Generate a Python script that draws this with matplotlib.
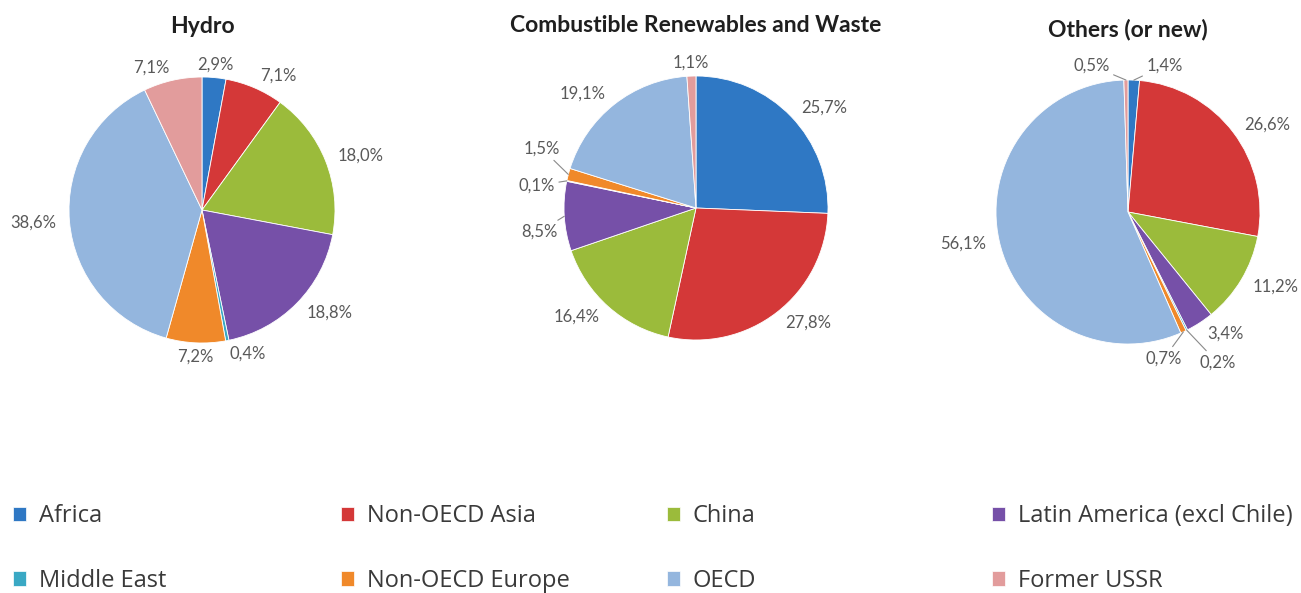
import matplotlib
matplotlib.use('Agg')
from matplotlib import pyplot as plt
from matplotlib.patches import Patch
import numpy as np

regions = ['Africa', 'Non-OECD Asia', 'China', 'Latin America (excl Chile)',
           'Middle East', 'Non-OECD Europe', 'OECD', 'Former USSR']
colors = ['#2F78C4', '#D43838', '#9BBB3B', '#7650A8',
          '#3AA8C4', '#F0892A', '#94B6DE', '#E29C9C']

titles = ['Hydro', 'Combustible Renewables and Waste', 'Others (or new)']
hydro = [2.9, 7.1, 18.0, 18.8, 0.4, 7.2, 38.6, 7.1]
combustible = [25.7, 27.8, 16.4, 8.5, 0.1, 1.5, 19.1, 1.1]
others = [1.4, 26.6, 11.2, 3.4, 0.2, 0.7, 56.1, 0.5]

plt.rcParams['font.family'] = ['Lato', 'DejaVu Sans']

W, H = 1301, 593
fig = plt.figure(figsize=(W / 100, H / 100), dpi=100)

# pie centre x, centre y (from top) and radius, in pixels
pies = [(202, 210, 133), (696, 208, 132), (1128, 212, 132)]
lim = 1.5

# small slices whose label sits apart with a leader line: index -> (x, y, ha)
moved = [
    {},
    {3: (-1.05, -0.18, 'right'), 4: (-1.07, 0.17, 'right'), 5: (-1.03, 0.45, 'right')},
    {0: (0.14, 1.11, 'left'), 7: (-0.14, 1.11, 'right'),
     5: (0.41, -1.11, 'right'), 4: (0.54, -1.14, 'left')},
]


def fmt(v):
    return ('%.1f%%' % v).replace('.', ',')


for k, values in enumerate([hydro, combustible, others]):
    cx, cy, r = pies[k]
    s = r * lim
    ax = fig.add_axes([(cx - s) / W, (H - cy - s) / H, 2 * s / W, 2 * s / H])
    wedges, _ = ax.pie(values, colors=colors, startangle=90, counterclock=False,
                       wedgeprops=dict(edgecolor='white', linewidth=0.6))
    ax.set_xlim(-lim, lim)
    ax.set_ylim(-lim, lim)
    ax.axis('off')
    for i, w in enumerate(wedges):
        ang = np.deg2rad((w.theta1 + w.theta2) / 2)
        ex, ey = np.cos(ang), np.sin(ang)
        if i in moved[k]:
            x, y, ha = moved[k][i]
            ax.annotate(fmt(values[i]), xy=(ex, ey), xytext=(x, y), ha=ha, va='center',
                        fontsize=12, color='#595959', annotation_clip=False,
                        arrowprops=dict(arrowstyle='-', color='#8a8a8a', lw=0.8,
                                        shrinkA=1, shrinkB=0))
        else:
            ha = 'center' if abs(ex) < 0.1 else ('left' if ex > 0 else 'right')
            ax.text(1.1 * ex, 1.1 * ey, fmt(values[i]), ha=ha, va='center',
                    fontsize=12, color='#595959')
    ax.text(0, 1.38, titles[k], ha='center', va='center', fontsize=16.5,
            fontweight='bold', color='#1F1F1F')

# legend: four columns of two entries
legend_x = [13, 341, 667, 992]
for j in range(4):
    idx = [j, j + 4]
    handles = [Patch(facecolor=colors[i], edgecolor='white', linewidth=0.5) for i in idx]
    fig.legend(handles, [regions[i] for i in idx], loc='center left',
               bbox_to_anchor=(legend_x[j] / W, 44.5 / H), frameon=False,
               prop={'family': ['Open Sans', 'DejaVu Sans'], 'size': 17},
               labelcolor='#3A3A3A', handlelength=0.55, handleheight=0.55,
               handletextpad=0.55, labelspacing=1.72, borderpad=0, borderaxespad=0)

plt.savefig('out.png', dpi=100)
